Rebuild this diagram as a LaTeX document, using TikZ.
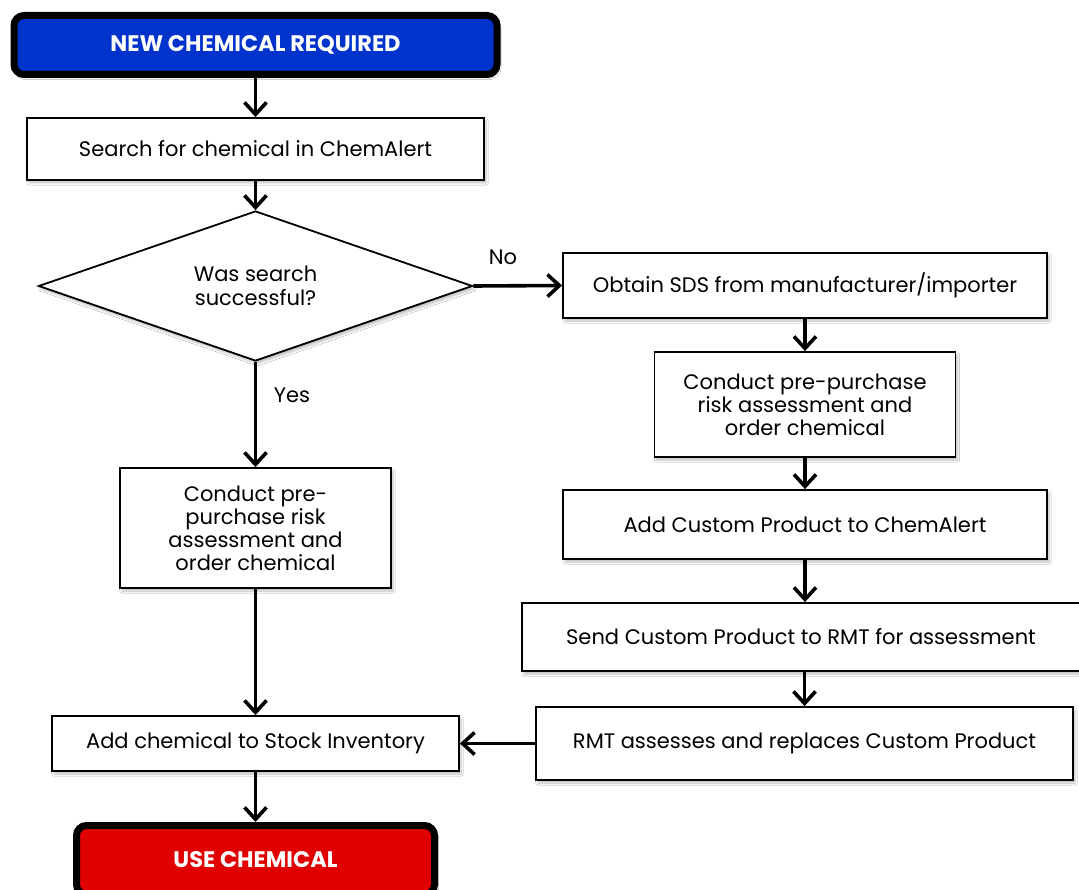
\documentclass[tikz,border=0pt]{standalone}
\usepackage{fontspec}
\setmainfont{Poppins}
\usetikzlibrary{arrows.meta,shapes.geometric,shadows.blur}
\definecolor{startblue}{RGB}{0,51,204}
\definecolor{endred}{RGB}{224,0,0}
\tikzset{
  boxshadow/.style={blur shadow={shadow xshift=2pt,shadow yshift=-3pt,shadow blur steps=6,shadow opacity=25}},
  procbox/.style={draw=black,line width=1.8pt,fill=white,rectangle,inner sep=0pt,align=center,
    font=\fontsize{21}{23}\selectfont,boxshadow},
  termbox/.style={draw=black,line width=7pt,rectangle,rounded corners=10pt,inner sep=0pt,align=center,
    text=white,font=\fontsize{22.5}{24}\selectfont\bfseries,boxshadow},
  decbox/.style={draw=black,line width=1.8pt,fill=white,diamond,aspect=2.89,inner sep=0pt,align=center,
    font=\fontsize{21}{24}\selectfont,boxshadow},
  flow/.style={draw=black,line width=3.6pt,-{Straight Barb[length=12pt,width=22pt,line width=3.6pt]}},
  lbl/.style={font=\fontsize{21}{23}\selectfont,inner sep=0pt}
}
\begin{document}
\begin{tikzpicture}[x=1pt,y=-1pt]
\useasboundingbox (0,0) rectangle (1079,890);
\fill[white] (0,0) rectangle (1079,890);
\node[termbox,fill=startblue,minimum width=483pt,minimum height=59pt] (start) at (255.5,45) {NEW CHEMICAL REQUIRED};
\node[procbox,minimum width=457pt,minimum height=62pt] (search) at (255.5,149) {Search for chemical in ChemAlert};
\node[decbox,minimum width=434pt,minimum height=150pt] (dec) at (255.5,286) {Was search\\successful?};
\node[procbox,minimum width=484pt,minimum height=65pt] (obtain) at (805,285.5) {Obtain SDS from manufacturer/importer};
\node[procbox,minimum width=301pt,minimum height=105pt] (conR) at (805,404.5) {Conduct pre-purchase\\risk assessment and\\order chemical};
\node[procbox,minimum width=484pt,minimum height=69pt] (addC) at (805,524.5) {Add Custom Product to ChemAlert};
\node[procbox,minimum width=558pt,minimum height=68pt] (send) at (801,637) {Send Custom Product to RMT for assessment};
\node[procbox,minimum width=537pt,minimum height=73pt] (rmt) at (804.5,743.5) {RMT assesses and replaces Custom Product};
\node[procbox,minimum width=271pt,minimum height=120pt] (conL) at (255.5,528) {Conduct pre-\\purchase risk\\assessment and\\order chemical};
\node[procbox,minimum width=407pt,minimum height=55pt] (addS) at (255.5,743.5) {Add chemical to Stock Inventory};
\node[termbox,fill=endred,minimum width=358pt,minimum height=69pt] (end) at (255.5,860) {USE CHEMICAL};
\node[lbl] (no) at (503,257) {No};
\node[lbl] (yes) at (292,395) {Yes};
\draw[flow] (start) -- (search);
\draw[flow] (search) -- (dec);
\draw[flow] (dec.east) -- (obtain.west);
\draw[flow] (dec.south) -- (conL.north);
\draw[flow] (obtain) -- (conR);
\draw[flow] (conR) -- (addC);
\draw[flow] (addC.south) -- (addC.south |- send.north);
\draw[flow] (send.south -| rmt.north) -- (rmt.north);
\draw[flow] (rmt.west) -- (addS.east);
\draw[flow] (conL) -- (addS);
\draw[flow] (addS) -- (end);
\end{tikzpicture}
\end{document}
